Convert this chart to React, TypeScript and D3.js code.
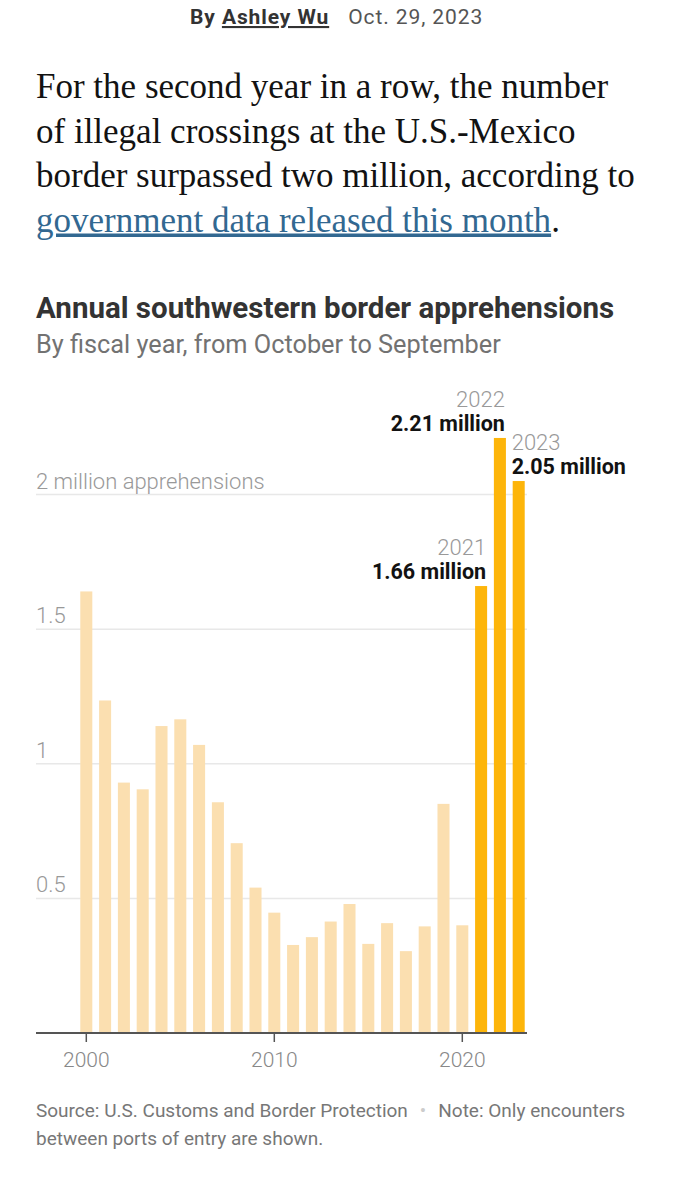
import React from "react";
import * as d3 from "d3";

const years = [2000, 2001, 2002, 2003, 2004, 2005, 2006, 2007, 2008, 2009, 2010, 2011, 2012, 2013, 2014, 2015, 2016, 2017, 2018, 2019, 2020, 2021, 2022, 2023];
const apprehensions = [1.64, 1.235, 0.93, 0.905, 1.14, 1.165, 1.07, 0.857, 0.705, 0.54, 0.447, 0.327, 0.356, 0.414, 0.479, 0.331, 0.408, 0.304, 0.396, 0.851, 0.4, 1.66, 2.21, 2.05];
const highlightYears = [2021, 2022, 2023];
const highlightLabels = ["1.66 million", "2.21 million", "2.05 million"];
const labelSides = ["end", "end", "start"];
const yTicks = [0.5, 1, 1.5, 2];
const yTickLabels = ["0.5", "1", "1.5", "2 million apprehensions"];
const xTicks = [2000, 2010, 2020];

const paragraphLines = [
  "For the second year in a row, the number",
  "of illegal crossings at the U.S.-Mexico",
  "border surpassed two million, according to",
];
const linkText = "government data released this month";

const SANS = "'Roboto', 'Liberation Sans', sans-serif";
const SERIF = "'Liberation Serif', 'DejaVu Serif', serif";

export default function App() {
  const W = 674;
  const H = 1200;
  const x = d3.scaleLinear().domain([2000, 2023]).range([86.3, 518.7]);
  const step = x(2001) - x(2000);
  const bw = step * 0.64;
  const y = d3.scaleLinear().domain([0, 2]).range([1033, 494.5]);
  const left = 36;
  const right = 527;

  return (
    <svg width={W} height={H} style={{ position: "absolute", left: 0, top: 0, background: "#fff" }}>
      {/* byline */}
      <text x={190} y={24} fontFamily={SANS} fontSize={21} fill="#333" letterSpacing={0.9}>
        <tspan fontWeight={700}>By </tspan>
        <tspan fontWeight={700} textDecoration="underline">Ashley Wu</tspan>
        <tspan dx={19} fill="#555">Oct. 29, 2023</tspan>
      </text>

      {/* paragraph */}
      {paragraphLines.map((l, i) => (
        <text key={i} x={36} y={98 + i * 44.5} fontFamily={SERIF} fontSize={35} fill="#121212">
          {l}
        </text>
      ))}
      <text x={36} y={98 + 3 * 44.5} fontFamily={SERIF} fontSize={35} fill="#121212">
        <tspan fill="#326891" textDecoration="underline">{linkText}</tspan>
        <tspan>.</tspan>
      </text>

      {/* title */}
      <text x={36} y={318} fontFamily={SANS} fontSize={29.5} fontWeight={700} fill="#333">
        Annual southwestern border apprehensions
      </text>
      <text x={36} y={353} fontFamily={SANS} fontSize={25.3} fill="#727272">
        By fiscal year, from October to September
      </text>

      {/* gridlines */}
      {yTicks.map((t, i) => (
        <g key={t}>
          <line x1={left} x2={right} y1={y(t)} y2={y(t)} stroke="#e8e8e8" strokeWidth={1.5} />
          <text x={left} y={y(t) - 6} fontFamily={SANS} fontWeight={300} fontSize={22} fill="#999">
            {yTickLabels[i]}
          </text>
        </g>
      ))}

      {/* bars */}
      {years.map((yr, i) => (
        <rect
          key={yr}
          x={x(yr) - bw / 2}
          y={y(apprehensions[i])}
          width={bw}
          height={y(0) - y(apprehensions[i])}
          fill={highlightYears.includes(yr) ? "#fdb50a" : "#fbdfb0"}
        />
      ))}

      {/* annotations */}
      {highlightYears.map((yr, i) => {
        const v = apprehensions[years.indexOf(yr)];
        const anchor = labelSides[i];
        const tx = anchor === "end" ? x(yr) + bw / 2 - 1 : x(yr) - bw / 2 - 1;
        const ty = y(v) - 7;
        return (
          <g key={yr}>
            <text x={tx} y={ty - 24} textAnchor={anchor} fontFamily={SANS} fontWeight={300} fontSize={22} fill="#999">
              {yr}
            </text>
            <text x={tx} y={ty} textAnchor={anchor} fontFamily={SANS} fontWeight={700} fontSize={21.5} fill="#121212">
              {highlightLabels[i]}
            </text>
          </g>
        );
      })}

      {/* x axis */}
      <line x1={left} x2={right} y1={y(0)} y2={y(0)} stroke="#555" strokeWidth={2} />
      {xTicks.map((t) => (
        <g key={t}>
          <line x1={x(t)} x2={x(t)} y1={y(0)} y2={y(0) + 9} stroke="#555" strokeWidth={1.5} />
          <text x={x(t)} y={1067} textAnchor="middle" fontFamily={SANS} fontWeight={300} fontSize={21} fill="#888">
            {t}
          </text>
        </g>
      ))}

      {/* footer */}
      <text x={36} y={1117} fontFamily={SANS} fontSize={19} fill="#777">
        Source: U.S. Customs and Border Protection
        <tspan dx={12} fill="#ccc">•</tspan>
        <tspan dx={12}>Note: Only encounters</tspan>
      </text>
      <text x={36} y={1145} fontFamily={SANS} fontSize={19} fill="#777">
        between ports of entry are shown.
      </text>
    </svg>
  );
}
